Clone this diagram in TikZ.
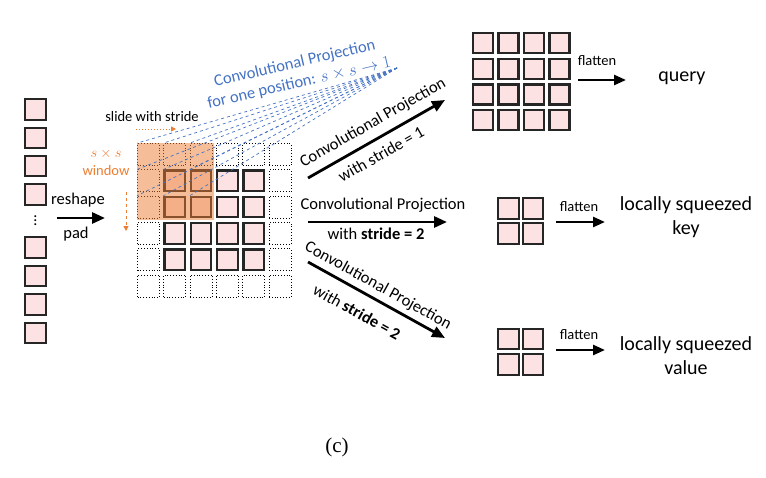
\documentclass[tikz,border=0pt]{standalone}
\usepackage{fontspec}
\setmainfont{Carlito}
\newfontfamily\capfont{Liberation Serif}
\usetikzlibrary{arrows.meta}
\definecolor{cellpink}{RGB}{252,226,226}
\definecolor{winorange}{RGB}{237,125,49}
\definecolor{projblue}{RGB}{68,114,196}
\tikzset{
  cell/.style={draw=black!85,fill=cellpink,line width=2.2pt,minimum size=20.5pt,inner sep=0pt},
  dcell/.style={draw=black,dotted,line width=0.8pt,minimum size=22pt,inner sep=0pt},
  bigarrow/.style={line width=2.8pt,-{Triangle[length=13pt,width=11pt]}},
  smallarrow/.style={line width=2.6pt,-{Triangle[length=12pt,width=10pt]}},
  lbl/.style={inner sep=0pt,font=\fontsize{16.5}{19}\selectfont},
  small/.style={inner sep=0pt,font=\fontsize{14.5}{17}\selectfont},
  big/.style={inner sep=0pt,font=\fontsize{20}{24}\selectfont,align=center}
}
\begin{document}
\begin{tikzpicture}[x=1pt,y=-1pt]
\useasboundingbox (0,0) rectangle (766,477);
% left column of tokens
\foreach \k/\yy in {1/109.5,2/138,3/166,4/194.5,5/247.5,6/276,7/304.5,8/333}
  \node[cell] (tok\k) at (35.5,\yy) {};
\node[inner sep=0pt,font=\fontsize{16}{16}\selectfont] (vdots) at (35.5,218) {$\vdots$};
% reshape arrow
\coordinate (rsA) at (57,218);
\coordinate (rsB) at (105,218);
\draw[bigarrow] (rsA) -- (rsB);
\node[lbl] (reshape) at (78,200) {reshape};
\node[lbl] (pad) at (76,234) {pad};
% padded grid
\foreach \i in {0,...,5}
  \foreach \j in {0,...,5}{
    \pgfmathsetmacro{\cx}{148.5+26.3*\j}
    \pgfmathsetmacro{\cy}{154.5+26.3*\i}
    \ifnum\i>0 \ifnum\i<5 \ifnum\j>0 \ifnum\j<5
      \node[cell] (g-\i-\j) at (\cx,\cy) {};
    \else \node[dcell] (g-\i-\j) at (\cx,\cy) {}; \fi
    \else \node[dcell] (g-\i-\j) at (\cx,\cy) {}; \fi
    \else \node[dcell] (g-\i-\j) at (\cx,\cy) {}; \fi
    \else \node[dcell] (g-\i-\j) at (\cx,\cy) {}; \fi
  }
% sliding window
\fill[winorange,opacity=0.5] (g-0-0.north west) ++(-0.5,-0.5) rectangle ([shift={(1.5,1.5)}]g-2-2.south east);
% blue projection lines
\coordinate (conv) at (397,68);
\foreach \i in {0,1,2}
  \foreach \j in {0,1,2}
    \draw[projblue,dashed,line width=0.7pt] (conv) -- (g-\i-\j.north west);
\node[lbl,projblue,rotate=13,align=center] (convtxt) at (297,73.5) {Convolutional Projection\\[1pt]for one position: $s\times s\rightarrow 1$};
% slide with stride
\node[small] (slide) at (152,117) {slide with stride};
\coordinate (slA) at (136,129);
\coordinate (slB) at (176,129);
\draw[winorange,dotted,line width=1pt,-{Triangle[length=5pt,width=5pt]}] (slA) -- (slB);
\node[small,winorange] (sxs) at (106,154) {$s\times s$};
\node[small,winorange] (window) at (106,171) {window};
\coordinate (dnA) at (126,192);
\coordinate (dnB) at (126,231);
\draw[winorange,dashed,line width=1pt,-{Triangle[length=5pt,width=5pt]}] (dnA) -- (dnB);
% projection arrows
\coordinate (a1s) at (308,178); \coordinate (a1e) at (445,100);
\coordinate (a2s) at (308,222); \coordinate (a2e) at (447,222);
\coordinate (a3s) at (308,262); \coordinate (a3e) at (445,338);
\draw[bigarrow] (a1s) -- (a1e);
\draw[bigarrow] (a2s) -- (a2e);
\draw[bigarrow] (a3s) -- (a3e);
\node[lbl,rotate=29.7] (p1a) at (373,123) {Convolutional Projection};
\node[lbl,rotate=29.7] (p1b) at (381,154) {with stride = 1};
\node[lbl] (p2a) at (383,205) {Convolutional Projection};
\node[lbl] (p2b) at (376,234) {with \textbf{stride = 2}};
\node[lbl,rotate=-29] (p3a) at (378,286) {Convolutional Projection};
\node[lbl,rotate=-29] (p3b) at (357,312) {with \textbf{stride = 2}};
% query grid
\foreach \i in {0,...,3}
  \foreach \j in {0,...,3}
    \node[cell,minimum size=20pt] (q-\i-\j) at ({483+25.5*\j},{43+25.7*\i}) {};
\coordinate (f1s) at (578,80); \coordinate (f1e) at (626,80);
\draw[smallarrow] (f1s) -- (f1e);
\node[small] (fl1) at (597,61) {flatten};
\node[big] (query) at (682,78) {query};
% key grid
\foreach \i in {0,1}
  \foreach \j in {0,1}
    \node[cell] (k-\i-\j) at ({508.5+24.5*\j},{208.5+25*\i}) {};
\coordinate (f2s) at (556,222); \coordinate (f2e) at (605,222);
\draw[smallarrow] (f2s) -- (f2e);
\node[small] (fl2) at (579,207) {flatten};
\node[big] (key) at (686,217) {locally squeezed\\key};
% value grid
\foreach \i in {0,1}
  \foreach \j in {0,1}
    \node[cell] (v-\i-\j) at ({508.5+24.5*\j},{339+25.5*\i}) {};
\coordinate (f3s) at (556,350); \coordinate (f3e) at (605,350);
\draw[smallarrow] (f3s) -- (f3e);
\node[small] (fl3) at (579,335) {flatten};
\node[big] (value) at (686,355.5) {locally squeezed\\value};
% caption
\node[inner sep=0pt,font=\capfont\fontsize{21}{24}\selectfont] (cap) at (337,447) {(c)};
\end{tikzpicture}
\end{document}
